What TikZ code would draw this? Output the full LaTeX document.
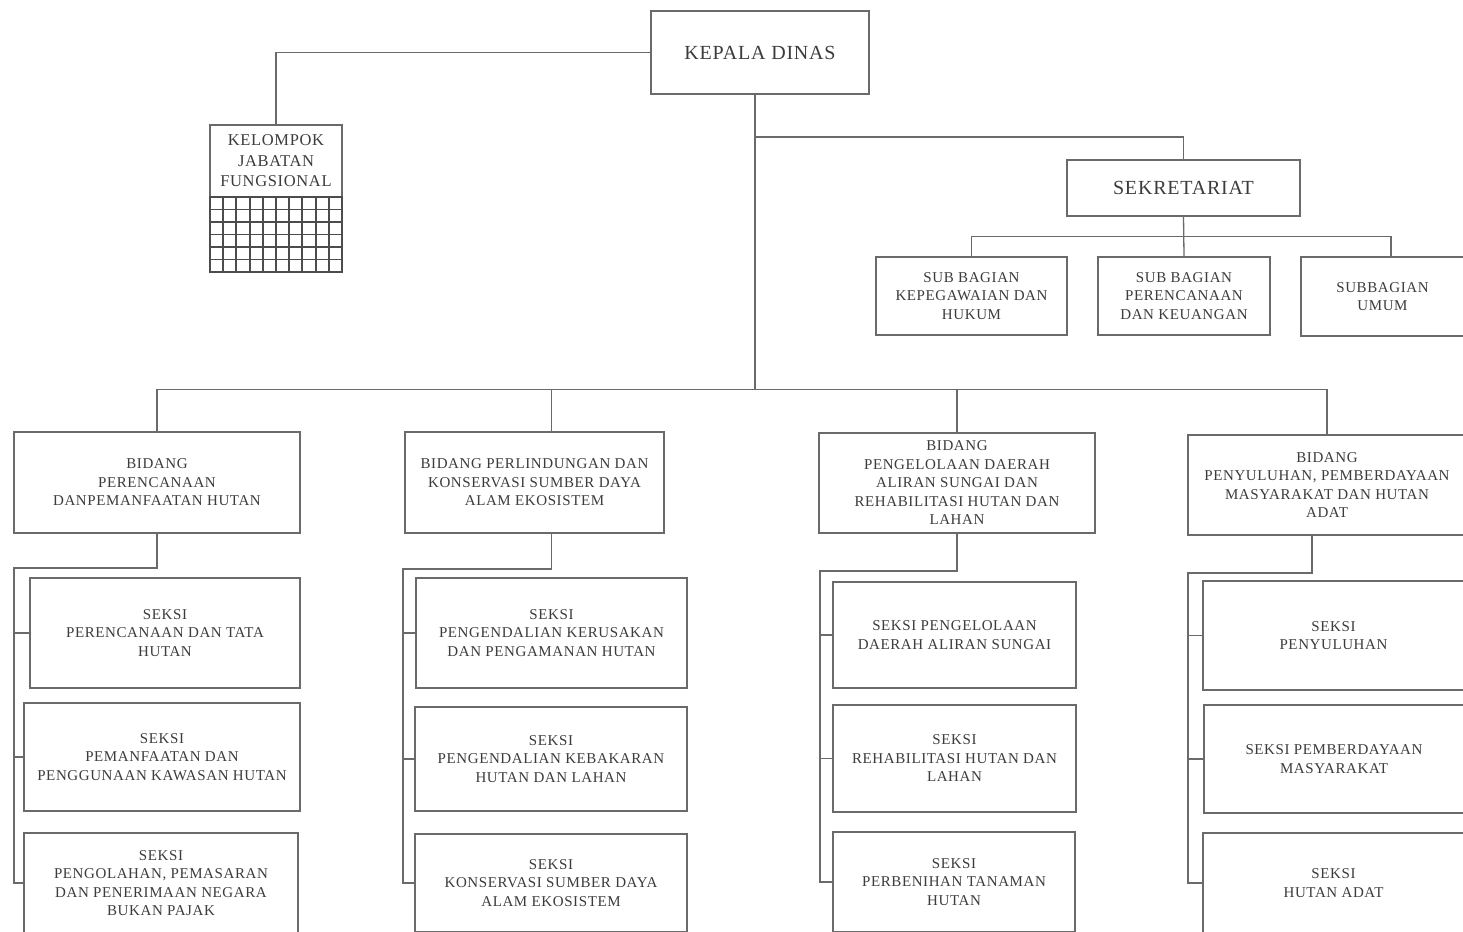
\documentclass[tikz,border=0pt]{standalone}
\usepackage{fontspec}
\setmainfont{Liberation Serif}[LetterSpace=4]
\definecolor{linegray}{HTML}{6A6A6A}
\definecolor{textgray}{HTML}{3C3C3C}
\tikzset{
  box/.style={draw=linegray, line width=1.3pt, rectangle, inner sep=0pt, align=center,
    text=textgray, font=\fontsize{15}{18.5}\selectfont},
  bigbox/.style={box, font=\fontsize{20}{24}\selectfont},
  conn/.style={draw=linegray, line width=1.3pt},
  gridline/.style={draw=black!70, line width=1.9pt}
}
\begin{document}
\begin{tikzpicture}[x=1pt,y=-1pt]
\useasboundingbox (0,0) rectangle (1463,931);
\clip (0,0) rectangle (1463,931);
\fill[white] (0,0) rectangle (1463,931);

% top level
\node[bigbox, minimum width=218, minimum height=83] (kd) at (760,52.5) {KEPALA DINAS};
\node[box, font=\fontsize{16.5}{20.5}\selectfont, minimum width=132, minimum height=72] (kjf) at (276,161) {KELOMPOK\\JABATAN\\FUNGSIONAL};
\draw[gridline] (210,197) rectangle (342,272);
\foreach \i in {1,...,9} { \draw[gridline] ({210+\i*13.2},197) -- ({210+\i*13.2},272); }
\foreach \j in {1,...,5} { \draw[gridline] (210,{197+\j*12.5}) -- (342,{197+\j*12.5}); }

\node[bigbox, minimum width=233, minimum height=56] (sek) at (1183.5,188) {SEKRETARIAT};
\node[box, minimum width=191, minimum height=78] (sb1) at (971.5,296) {SUB BAGIAN\\KEPEGAWAIAN DAN\\HUKUM};
\node[box, minimum width=172, minimum height=78] (sb2) at (1184,296) {SUB BAGIAN\\PERENCANAAN\\DAN KEUANGAN};
\node[box, minimum width=163, minimum height=79] (sb3) at (1382.5,296.5) {SUBBAGIAN\\UMUM};

% bidang
\node[box, minimum width=286, minimum height=101] (b1) at (157,482.5) {BIDANG\\PERENCANAAN\\DANPEMANFAATAN HUTAN};
\node[box, minimum width=259, minimum height=101] (b2) at (534.5,482.5) {BIDANG PERLINDUNGAN DAN\\KONSERVASI SUMBER DAYA\\ALAM EKOSISTEM};
\node[box, minimum width=276, minimum height=100] (b3) at (957,483) {BIDANG\\PENGELOLAAN DAERAH\\ALIRAN SUNGAI DAN\\REHABILITASI HUTAN DAN\\LAHAN};
\node[box, minimum width=278, minimum height=100] (b4) at (1327,485) {BIDANG\\PENYULUHAN, PEMBERDAYAAN\\MASYARAKAT DAN HUTAN\\ADAT};

% seksi column 1
\node[box, minimum width=270, minimum height=110] (s11) at (165,633) {SEKSI\\PERENCANAAN DAN TATA\\HUTAN};
\node[box, minimum width=276, minimum height=108] (s12) at (162,757) {SEKSI\\PEMANFAATAN DAN\\PENGGUNAAN KAWASAN HUTAN};
\node[box, minimum width=274, minimum height=100] (s13) at (161,883) {SEKSI\\PENGOLAHAN, PEMASARAN\\DAN PENERIMAAN NEGARA\\BUKAN PAJAK};
% seksi column 2
\node[box, minimum width=271, minimum height=110] (s21) at (551.5,633) {SEKSI\\PENGENDALIAN KERUSAKAN\\DAN PENGAMANAN HUTAN};
\node[box, minimum width=272, minimum height=104] (s22) at (551,759) {SEKSI\\PENGENDALIAN KEBAKARAN\\HUTAN DAN LAHAN};
\node[box, minimum width=272, minimum height=98] (s23) at (551,883) {SEKSI\\KONSERVASI SUMBER DAYA\\ALAM EKOSISTEM};
% seksi column 3
\node[box, minimum width=243, minimum height=106] (s31) at (954.5,635) {SEKSI PENGELOLAAN\\DAERAH ALIRAN SUNGAI};
\node[box, minimum width=243, minimum height=107] (s32) at (954.5,758.5) {SEKSI\\REHABILITASI HUTAN DAN\\LAHAN};
\node[box, minimum width=242, minimum height=100] (s33) at (954,882) {SEKSI\\PERBENIHAN TANAMAN\\HUTAN};
% seksi column 4
\node[box, minimum width=261, minimum height=109] (s41) at (1333.5,635.5) {SEKSI\\PENYULUHAN};
\node[box, minimum width=260, minimum height=108] (s42) at (1334,759) {SEKSI PEMBERDAYAAN\\MASYARAKAT};
\node[box, minimum width=261, minimum height=100] (s43) at (1333.5,883) {SEKSI\\HUTAN ADAT};

% coordinates
\coordinate (kdb) at (755,94);
\coordinate (tk) at (755,390);
\coordinate (br) at (755,137);
\coordinate (sb3t) at (1391,257);
\coordinate (c1l) at (14,568);
\coordinate (c2l) at (403,569);
\coordinate (c3l) at (820,571);
\coordinate (b4d) at (1312,535);
\coordinate (c4l) at (1188,573);

% connectors top
\draw[conn] (kd.west) -| (kjf.north);
\draw[conn] (kdb) -- (tk);
\draw[conn] (br) -| (sek.north);
\draw[conn] (sek.south) -- (sb2.north);
\draw[conn] (sb1.north) -- ++(0,-20) -| (sb3t);
\draw[conn] (b1.north) -- ++(0,-42) -| (b4.north);
\draw[conn] (b2.north -| s21.north) -- ++(0,-42);
\draw[conn] (b3.north) -- ++(0,-43);

% column 1
\draw[conn] (b1.south) |- (c1l) |- (s13.west);
\draw[conn] (c1l) |- (s11.west);
\draw[conn] (c1l) |- (s12.west);
% column 2
\draw[conn] (b2.south -| s21.north) |- (c2l) |- (s23.west);
\draw[conn] (c2l) |- (s21.west);
\draw[conn] (c2l) |- (s22.west);
% column 3
\draw[conn] (b3.south) |- (c3l) |- (s33.west);
\draw[conn] (c3l) |- (s31.west);
\draw[conn] (c3l) |- (s32.west);
% column 4
\draw[conn] (b4d) |- (c4l) |- (s43.west);
\draw[conn] (c4l) |- (s41.west);
\draw[conn] (c4l) |- (s42.west);
\end{tikzpicture}
\end{document}
